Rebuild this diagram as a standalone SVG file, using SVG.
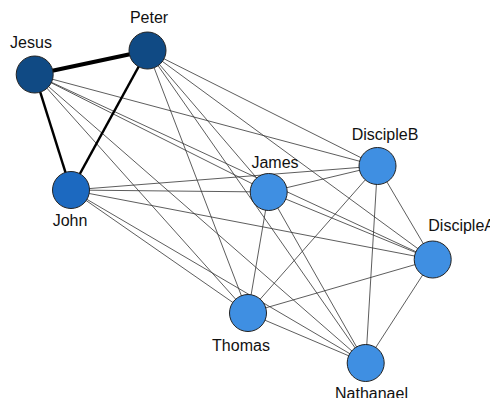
<svg xmlns="http://www.w3.org/2000/svg" width="490" height="398" viewBox="0 0 490 398">
<style>
.e{stroke:#333;stroke-width:0.8;fill:none}
.t{stroke:#000;fill:none}
.n{stroke:#222;stroke-width:1}
.l{font-family:"Liberation Sans",Arial,sans-serif;font-size:16px;fill:#111}
.d{fill:#104a84}
.m{fill:#1c69c0}
.b{fill:#3f8fe2}
</style>
<rect width="490" height="398" fill="#fff"/>
<g id="edges">
<line class="e" x1="34.7" y1="74.5" x2="268.7" y2="192"/>
<line class="e" x1="34.7" y1="74.5" x2="377.5" y2="166"/>
<line class="e" x1="34.7" y1="74.5" x2="432.7" y2="259.5"/>
<line class="e" x1="34.7" y1="74.5" x2="248" y2="313"/>
<line class="e" x1="34.7" y1="74.5" x2="365.7" y2="363"/>
<line class="e" x1="147.5" y1="50.5" x2="268.7" y2="192"/>
<line class="e" x1="147.5" y1="50.5" x2="377.5" y2="166"/>
<line class="e" x1="147.5" y1="50.5" x2="432.7" y2="259.5"/>
<line class="e" x1="147.5" y1="50.5" x2="248" y2="313"/>
<line class="e" x1="147.5" y1="50.5" x2="365.7" y2="363"/>
<line class="e" x1="71" y1="190" x2="268.7" y2="192"/>
<line class="e" x1="71" y1="190" x2="377.5" y2="166"/>
<line class="e" x1="71" y1="190" x2="432.7" y2="259.5"/>
<line class="e" x1="71" y1="190" x2="248" y2="313"/>
<line class="e" x1="71" y1="190" x2="365.7" y2="363"/>
<line class="e" x1="268.7" y1="192" x2="377.5" y2="166"/>
<line class="e" x1="268.7" y1="192" x2="432.7" y2="259.5"/>
<line class="e" x1="268.7" y1="192" x2="248" y2="313"/>
<line class="e" x1="268.7" y1="192" x2="365.7" y2="363"/>
<line class="e" x1="377.5" y1="166" x2="432.7" y2="259.5"/>
<line class="e" x1="377.5" y1="166" x2="248" y2="313"/>
<line class="e" x1="377.5" y1="166" x2="365.7" y2="363"/>
<line class="e" x1="432.7" y1="259.5" x2="248" y2="313"/>
<line class="e" x1="432.7" y1="259.5" x2="365.7" y2="363"/>
<line class="e" x1="248" y1="313" x2="365.7" y2="363"/>
<line class="t" stroke-width="4" x1="34.7" y1="74.5" x2="147.5" y2="50.5"/>
<line class="t" stroke-width="2.5" x1="34.7" y1="74.5" x2="71" y2="190"/>
<line class="t" stroke-width="2.5" x1="147.5" y1="50.5" x2="71" y2="190"/>
</g>
<g id="Jesus"><circle class="n d" cx="34.7" cy="74.5" r="18.5"/><text class="l" x="31" y="48.3" text-anchor="middle">Jesus</text></g>
<g id="Peter"><circle class="n d" cx="147.5" cy="50.5" r="18.5"/><text class="l" x="149" y="22.7" text-anchor="middle">Peter</text></g>
<g id="John"><circle class="n m" cx="71" cy="190" r="18.5"/><text class="l" x="70" y="226" text-anchor="middle">John</text></g>
<g id="James"><circle class="n b" cx="268.7" cy="192" r="18.5"/><text class="l" x="275" y="168.3" text-anchor="middle">James</text></g>
<g id="DiscipleB"><circle class="n b" cx="377.5" cy="166" r="18.5"/><text class="l" x="385" y="140" text-anchor="middle">DiscipleB</text></g>
<g id="DiscipleA"><circle class="n b" cx="432.7" cy="259.5" r="18.5"/><text class="l" x="428.3" y="231">DiscipleA</text></g>
<g id="Thomas"><circle class="n b" cx="248" cy="313" r="18.5"/><text class="l" x="241" y="351" text-anchor="middle">Thomas</text></g>
<g id="Nathanael"><circle class="n b" cx="365.7" cy="363" r="18.5"/><text class="l" x="335" y="398.5">Nathanael</text></g>
</svg>
